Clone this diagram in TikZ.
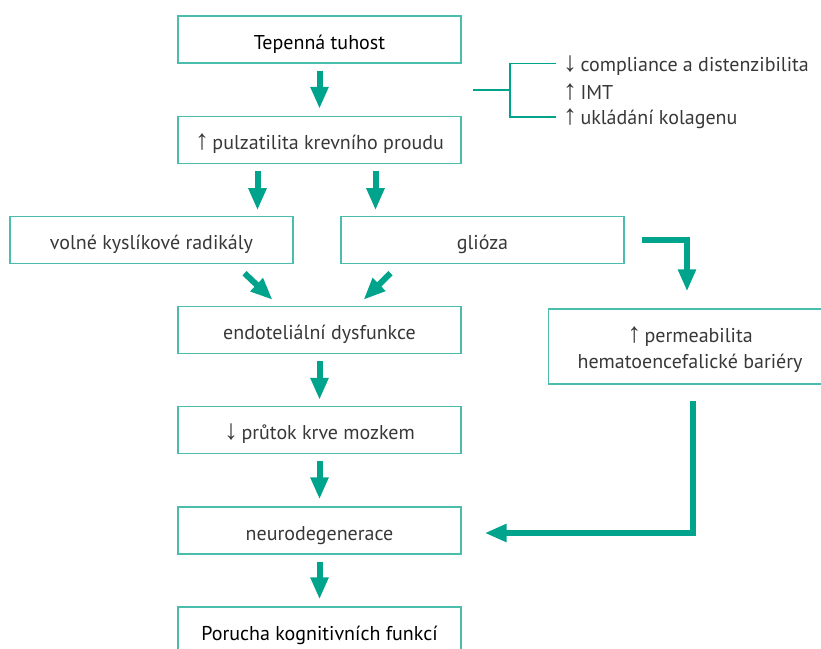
\documentclass[tikz,border=0pt]{standalone}
\usepackage{fontspec}
\setmainfont{PT Sans}
\newfontfamily\symf{Liberation Sans}
\usetikzlibrary{arrows.meta,calc}
\definecolor{teal1}{HTML}{00A38B}
\definecolor{tealbox}{HTML}{4BBDAC}
\definecolor{txt}{HTML}{383838}
\newcommand{\up}{{\symf\fontsize{28}{28}\selectfont ↑}\,}
\newcommand{\dn}{{\symf\fontsize{28}{28}\selectfont ↓}\,}
\tikzset{
  box/.style={draw=tealbox, line width=1.4pt, rectangle, minimum width=283pt,
    minimum height=47pt, inner sep=0pt, text=txt, font=\fontsize{20}{26}\selectfont,
    align=center, text height=20pt, text depth=1pt},
  mainbox/.style={box, text=black},
  tallbox/.style={box, minimum height=75pt, text height=, text depth=},
  barrow/.style={draw=teal1, line width=6pt,
    -{Triangle[length=22pt,width=17pt]}},
  elbow/.style={barrow, line join=miter},
  brace/.style={draw=teal1, line width=1.3pt},
  note/.style={anchor=west, inner sep=0pt, text=txt, font=\fontsize{20}{24}\selectfont}
}
\begin{document}
\begin{tikzpicture}[x=1pt,y=1pt]
\useasboundingbox (0,0) rectangle (821,-648);
\clip (0,0) rectangle (821,-648);

% main chain of boxes
\node[mainbox] (tuh)  at (319.5,-39.5) {Tepenná tuhost};
\node[box]     (pulz) at (319.5,-140)  {\up pulzatilita krevního proudu};
\node[box]     (vkr)  at (151.5,-240)  {volné kyslíkové radikály};
\node[box]     (gli)  at (482.5,-240)  {glióza};
\node[box]     (endo) at (319.5,-330)  {endoteliální dysfunkce};
\node[tallbox] (perm) at (690,-346.5) {};
\node[align=center, inner sep=0pt, text=txt, font=\fontsize{20}{26}\selectfont]
  (permtxt) at ([yshift=-3pt]perm.center) {\up permeabilita\\hematoencefalické bariéry};
\node[box]     (prut) at (319.5,-430)  {\dn průtok krve mozkem};
\node[box]     (neu)  at (319.5,-530.5){neurodegenerace};
\node[mainbox] (por)  at (319.5,-630.5){Porucha kognitivních funkcí};

% side notes with bracket
\node[note] (n1) at (563,-66)  {\dn compliance a distenzibilita};
\node[note] (n2) at (563,-92)  {\up IMT};
\node[note] (n3) at (563,-119) {\up ukládání kolagenu};
\coordinate (bl) at (473,-90);
\coordinate (bm) at (510,-90);
\draw[brace] (bl) -- (bm);
\draw[brace] (556,-63.5) -| (bm) |- (556,-117);

% block arrows
\draw[barrow] ([yshift=-7pt]tuh.south) -- ([yshift=7pt]pulz.north);
\draw[barrow] ([xshift=-62pt,yshift=-7pt]pulz.south) -- ([xshift=-62pt,yshift=-46pt]pulz.south);
\draw[barrow] ([xshift=56pt,yshift=-7pt]pulz.south) -- ([xshift=56pt,yshift=-46pt]pulz.south);
\draw[barrow] ([xshift=93pt,yshift=-9pt]vkr.south) -- ([xshift=-47pt,yshift=6pt]endo.north);
\draw[barrow] ([xshift=-92pt,yshift=-9pt]gli.south) -- ([xshift=44pt,yshift=6pt]endo.north);
\draw[barrow] ([yshift=-7pt]endo.south) -- ([yshift=6pt]prut.north);
\draw[barrow] ([yshift=-7pt]prut.south) -- ([yshift=7pt]neu.north);
\draw[barrow] ([yshift=-7pt]neu.south) -- ([yshift=7pt]por.north);

% elbow arrows on the right
\coordinate (g1) at ([xshift=17pt]gli.east);
\coordinate (g2) at ([xshift=-3pt,yshift=17pt]perm.north);
\draw[elbow] (g1) -| (g2);
\coordinate (p1) at ([xshift=3pt,yshift=-16pt]perm.south);
\coordinate (p2) at ([xshift=23pt,yshift=-2.5pt]neu.east);
\draw[elbow] (p1) |- (p2);
\end{tikzpicture}
\end{document}
